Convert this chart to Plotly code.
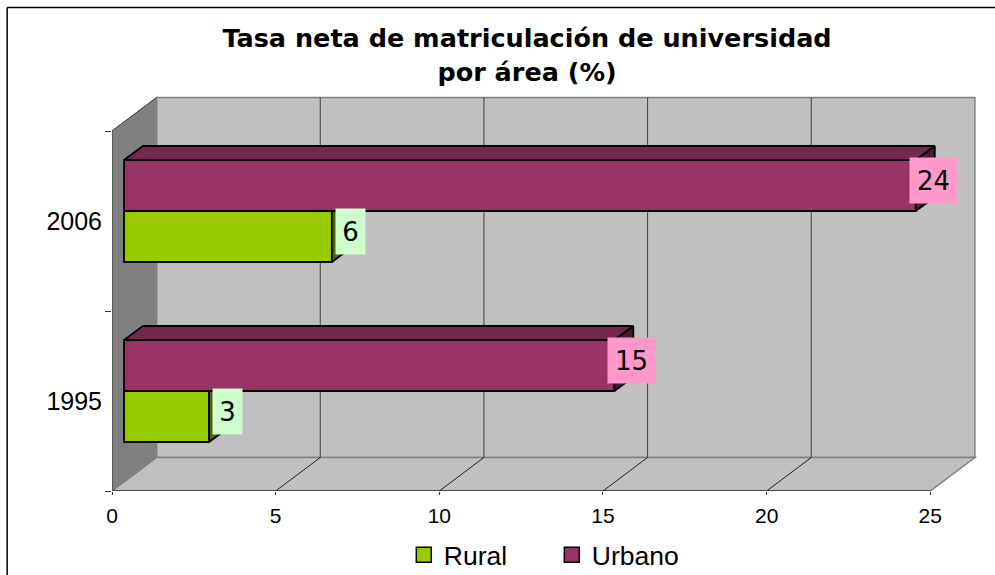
import plotly.graph_objects as go

# ---- data ----
years = ["1995", "2006"]
rural = [2.6, 6.35]
urbano = [14.98, 24.19]
rural_labels = ["3", "6"]
urbano_labels = ["15", "24"]
x_ticks = [0, 5, 10, 15, 20, 25]
title = "Tasa neta de matriculación de universidad<br>por área (%)"

# ---- scale of the picture (pixels per axis unit) ----
W, H = 995, 575
L, T, B = 112.3, 90, 84
PX_X = 32.72
PX_Y = 180.0
ux = lambda p: p / PX_X
uy = lambda p: p / PX_Y
px = lambda p: (p - L) / (W - L)
py = lambda p: (H - B - p) / (H - B - T)

WALL_DX, WALL_DY = ux(44.6), uy(33.5)
BAR_DX, BAR_DY = ux(12), uy(10)
SIDE_DX, SIDE_DY = ux(19), uy(14)
BAR_H = uy(51)

GREEN, GREEN_SIDE = "#99CC00", "#4D6600"
MAROON, MAROON_TOP, MAROON_SIDE = "#993366", "#75284E", "#4D1A33"
LBL_GREEN, LBL_PINK = "#CCFFCC", "#FF99CC"
pos = [i + 0.5 for i in range(len(years))]
bar_pos = [p + BAR_DY for p in pos]

fig = go.Figure()
shapes = []

def poly(xs, ys, fill, line=None, w=1):
    path = "M" + "L".join(f"{a},{b}" for a, b in zip(xs, ys)) + "Z"
    shapes.append(dict(type="path", path=path, xref="x", yref="y", layer="below",
                       fillcolor=fill, line=dict(color=line or fill, width=w)))

def seg(x0, y0, x1, y1, color, w=1):
    shapes.append(dict(type="line", x0=x0, y0=y0, x1=x1, y1=y1, xref="x", yref="y",
                       layer="below", line=dict(color=color, width=w)))

xmax = x_ticks[-1]
ymax = len(years)
poly([WALL_DX, xmax + WALL_DX, xmax + WALL_DX, WALL_DX],
     [WALL_DY, WALL_DY, ymax + WALL_DY, ymax + WALL_DY], "#C0C0C0", "#808080", 1.5)
poly([0, xmax, xmax + WALL_DX, WALL_DX], [0, 0, WALL_DY, WALL_DY], "#C0C0C0", "#808080", 1.5)
poly([0, WALL_DX, WALL_DX, 0], [0, WALL_DY, ymax + WALL_DY, ymax], "#808080", "#808080", 1)
for t in x_ticks[1:-1]:
    seg(t + WALL_DX, WALL_DY, t + WALL_DX, ymax + WALL_DY, "#404040", 1)
    seg(t, 0, t + WALL_DX, WALL_DY, "#202020", 1)
seg(0, 0, 0, ymax, "#404040", 1.2)
seg(0, ymax, WALL_DX, ymax + WALL_DY, "#404040", 1)
seg(0, 0, xmax, 0, "#303030", 1.5)

# bars
for name, vals, col in (("Rural", rural, GREEN), ("Urbano", urbano, MAROON)):
    fig.add_trace(go.Bar(name=name, y=bar_pos, x=vals, base=BAR_DX, orientation="h",
                         marker=dict(color=col, line=dict(color="black", width=1.8)),
                         showlegend=False, hoverinfo="skip"))

def face(xs, ys, fill):
    fig.add_trace(go.Scatter(x=xs + xs[:1], y=ys + ys[:1], mode="lines", fill="toself",
                             fillcolor=fill, line=dict(color="black", width=1.8),
                             showlegend=False, hoverinfo="skip"))

for i in range(len(years)):
    mid = bar_pos[i]
    # rural side, hidden above the urban front face
    e = BAR_DX + rural[i]
    face([e, e + SIDE_DX, e + SIDE_DX, e],
         [mid, mid, mid - BAR_H + SIDE_DY, mid - BAR_H], GREEN_SIDE)
    # urban top and side
    e = BAR_DX + urbano[i]
    top = mid + BAR_H
    face([BAR_DX, BAR_DX + SIDE_DX, e + SIDE_DX, e],
         [top, top + SIDE_DY, top + SIDE_DY, top], MAROON_TOP)
    face([e, e + SIDE_DX, e + SIDE_DX, e],
         [top, top + SIDE_DY, mid + SIDE_DY, mid], MAROON_SIDE)

# legend entries
for name, col in (("Rural", GREEN), ("Urbano", MAROON)):
    fig.add_trace(go.Scatter(name=name, x=[None], y=[None], mode="markers",
                             marker=dict(symbol="square", size=15, color=col,
                                         line=dict(color="black", width=1.5))))

# value labels
ann = []
for i in range(len(years)):
    ann.append(dict(x=BAR_DX + rural[i] + ux(18.5), y=bar_pos[i] - BAR_H / 2 + uy(5),
                    text=rural_labels[i], bgcolor=LBL_GREEN, width=29, height=45))
    ann.append(dict(x=BAR_DX + urbano[i] + ux(17.5), y=bar_pos[i] + BAR_H / 2 + uy(5),
                    text=urbano_labels[i], bgcolor=LBL_PINK, width=47, height=45))
for a in ann:
    a.update(xref="x", yref="y", showarrow=False, borderpad=0, align="center", valign="middle",
             xanchor="center", yanchor="middle",
             font=dict(family="DejaVu Sans", size=26, color="black"))

# chart border
shapes.append(dict(type="line", xref="paper", yref="paper", x0=px(7.5), x1=px(7.5), y0=py(7.5), y1=py(H),
                   line=dict(color="black", width=1.5)))
shapes.append(dict(type="line", xref="paper", yref="paper", x0=px(7.5), x1=px(W), y0=py(7.5), y1=py(7.5),
                   line=dict(color="black", width=1.5)))

fig.update_layout(
    width=W, height=H, margin=dict(l=L, r=0, t=T, b=B, pad=0, autoexpand=False),
    paper_bgcolor="white", plot_bgcolor="white", barmode="group", bargap=1 - 2 * BAR_H, bargroupgap=0,
    title=dict(text=title, x=527 / W, xanchor="center", y=0.9176, yanchor="middle",
               font=dict(family="DejaVu Sans", size=25.5, color="black", weight="bold")),
    xaxis=dict(range=[0, (W - L) / PX_X], tickmode="array", tickvals=x_ticks, ticks="outside",
               ticklen=3, tickcolor="#303030", showgrid=False, zeroline=False, showline=False,
               ticklabelstandoff=3, tickfont=dict(family="Liberation Sans", size=21, color="black")),
    yaxis=dict(range=[0, (H - B - T) / PX_Y], tickmode="array", tickvals=pos, ticktext=years, ticks="",
               showgrid=False, zeroline=False, showline=False, ticklabelstandoff=9,
               minor=dict(tickmode="array", tickvals=[0, 1, 2], ticks="outside", ticklen=6,
                          tickcolor="#303030", showgrid=False),
               tickfont=dict(family="Liberation Sans", size=25, color="black")),
    legend=dict(orientation="h", x=px(404), y=py(555), xanchor="left", yanchor="middle",
                font=dict(family="Liberation Sans", size=26.5, color="black"),
                bgcolor="rgba(0,0,0,0)", itemsizing="trace", entrywidth=103, entrywidthmode="pixels"),
    shapes=shapes, annotations=ann, showlegend=True,
)

fig.write_html("out.html", config={"displayModeBar": False},
               post_script="document.body.style.margin='0';document.body.style.overflow='hidden';")
